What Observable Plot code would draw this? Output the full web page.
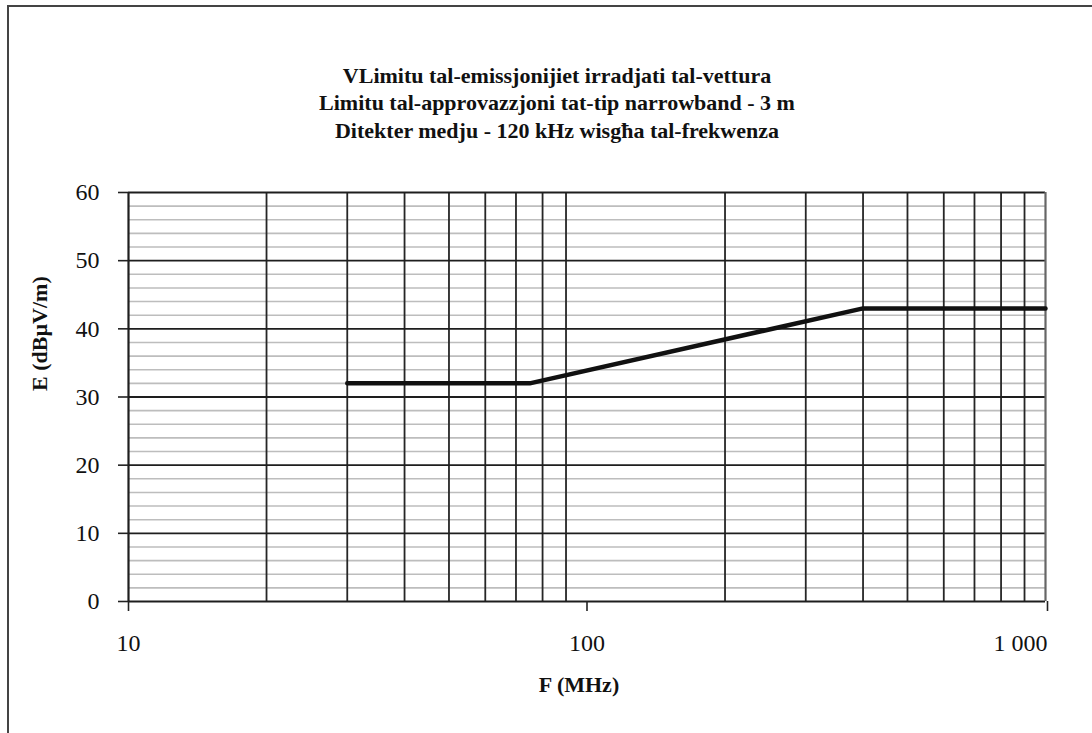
<!DOCTYPE html>
<html>
<head>
<meta charset="utf-8">
<script src="https://cdn.jsdelivr.net/npm/d3@7"></script>
<script src="https://cdn.jsdelivr.net/npm/@observablehq/plot@0.6"></script>
<style>
  html, body { margin: 0; padding: 0; background: #fff; }
  #wrap { position: relative; width: 1092px; height: 733px; overflow: hidden; }
  #border { position: absolute; left: 7px; top: 5px; right: -10px; bottom: -10px;
            border-top: 2.5px solid #444; border-left: 2.5px solid #444; pointer-events: none; }
  #wrap svg { position: absolute; left: 0; top: 0; }
</style>
</head>
<body>
<div id="wrap"><div id="border"></div></div>
<script>
// Vehicle radiated emission limit, narrowband, 3 m, average detector
const freqMHz = [30, 75, 400, 1000];
const limitDb = [32, 32, 43, 43];

const titleLines = [
  "VLimitu tal-emissjonijiet irradjati tal-vettura",
  "Limitu tal-approvazzjoni tat-tip narrowband - 3 m",
  "Ditekter medju - 120 kHz wisgħa tal-frekwenza"
];
const xLabel = "F (MHz)";
const yLabel = "E (dBµV/m)";

const xTicks = [10, 100, 1000];
const yTicks = [0, 10, 20, 30, 40, 50, 60];
const xGrid = [20, 30, 40, 50, 60, 70, 80, 90, 200, 300, 400, 500, 600, 700, 800, 900];
const yMinor = d3.range(0, 61, 2).filter(v => v % 10 !== 0);

const limit = freqMHz.map((f, i) => ({f, e: limitDb[i]}));
const fmt = v => d3.format(",")(v).replace(/,/g, " ");

const font = "'Liberation Serif', 'Times New Roman', serif";
const ink = "#111";

const chart = Plot.plot({
  width: 1092,
  height: 733,
  marginLeft: 128,
  marginRight: 47,
  marginTop: 192,
  marginBottom: 132,
  style: {fontFamily: font, background: "transparent", color: ink},
  x: {type: "log", domain: [10, 1000]},
  y: {domain: [0, 60]},
  marks: [
    Plot.ruleY(yMinor, {stroke: "#bdbdbd", strokeWidth: 1.6}),
    Plot.ruleX(xGrid, {stroke: "#262626", strokeWidth: 1.8}),
    Plot.ruleY(yTicks, {stroke: "#1e1e1e", strokeWidth: 1.8}),
    Plot.ruleX([1000], {stroke: "#666", strokeWidth: 2.2}),
    Plot.ruleX([10], {stroke: "#1e1e1e", strokeWidth: 2.2, y1: 0, y2: 60}),
    Plot.axisY(yTicks, {tickSize: 10, tickPadding: 19, fontSize: 24, label: null, stroke: "#222", strokeWidth: 1.6, fill: ink}),
    Plot.axisX([10, 100], {tickSize: 10, tickPadding: 22, fontSize: 24, label: null, tickFormat: fmt, stroke: "#222", strokeWidth: 1.6, fill: ink}),
    Plot.axisX([1000], {tickSize: 10, tickPadding: 22, fontSize: 24, label: null, tickFormat: fmt, textAnchor: "end", dx: 2, stroke: "#222", strokeWidth: 1.6, fill: ink}),
    Plot.line(limit, {x: "f", y: "e", stroke: "#111", strokeWidth: 4.5, strokeLinejoin: "miter"}),
    Plot.text([titleLines.join("\n")], {frameAnchor: "top", dx: -30, dy: -91, lineAnchor: "middle", lineHeight: 1.25, fontSize: 22, fontWeight: "bold", fill: ink, style: "word-spacing: 4px"}),
    Plot.text([xLabel], {frameAnchor: "bottom", dx: -8, dy: 90, fontSize: 22, fontWeight: "bold", fill: ink}),
    Plot.text([yLabel], {frameAnchor: "left", dx: -89, dy: -6, rotate: -90, fontSize: 22, fontWeight: "bold", fill: ink})
  ]
});
document.getElementById("wrap").appendChild(chart);
</script>
</body>
</html>
